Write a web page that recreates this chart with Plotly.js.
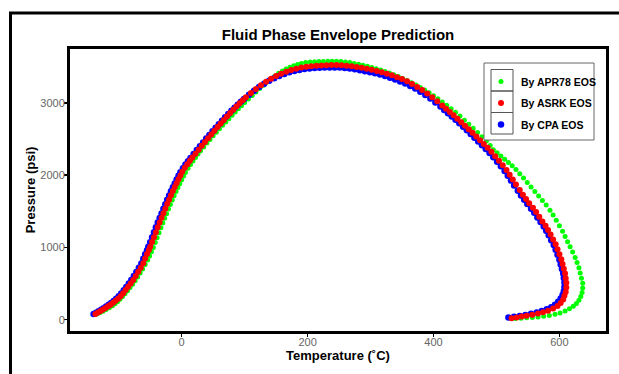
<!DOCTYPE html>
<html>
<head>
<meta charset="utf-8">
<script src="https://cdn.plot.ly/plotly-3.0.1.min.js"></script>
<style>
  html, body { margin: 0; padding: 0; background: #fff; }
  #chart { width: 619px; height: 374px; }
</style>
</head>
<body>
<div id="chart"></div>
<script>
// Series names (legend order)
const seriesNames = ["By APR78 EOS", "By ASRK EOS", "By CPA EOS"];

// APR78 EOS: [Temperature (°C), Pressure (psi)]
const apr78Pts = [
  [-135,78],[-130,96],[-125,117],[-120,140],[-115,165],[-110,193],[-106,220],[-102,250],[-98,283],[-94,320],
  [-90,358],[-86,400],[-82,444],[-78,490],[-74,538],[-70,590],[-66,645],[-62,702],[-58,762],[-54,825],
  [-51,880],[-48,940],[-45,1000],[-42,1068],[-39,1135],[-36,1203],[-33,1272],[-30,1338],[-27,1404],[-24,1466],
  [-21,1530],[-18,1594],[-15,1655],[-12,1715],[-9,1774],[-6,1830],[-3,1882],[0,1936],[3,1988],[6,2036],
  [10,2094],[14,2146],[18,2196],[22,2245],[26,2292],[30,2336],[35,2390],[40,2443],[45,2494],[50,2544],[55,2593],
  [60,2641],[65,2688],[70,2735],[75,2781],[80,2827],[85,2872],[90,2916],[95,2960],[100,3003],[106,3053],
  [112,3102],[118,3150],[124,3197],[130,3243],[136,3288],[142,3332],[148,3372],[154,3408],[160,3440],[166,3468],
  [172,3493],[178,3514],[184,3531],[190,3545],[197,3556],[204,3564],[211,3568],[218,3570],[225,3572],[232,3573],
  [239,3574],[246,3574],[253,3571],[260,3565],[267,3556],[274,3545],[281,3532],[288,3519],[295,3504],[302,3488],
  [309,3471],[316,3453],[323,3433],[330,3411],[337,3388],[344,3363],[351,3336],[358,3308],[365,3278],[372,3246],
  [379,3212],[386,3176],[393,3138],[400,3098],[407,3056],[414,3012],[421,2966],[428,2918],[435,2869],[442,2819],
  [449,2760],[456,2704],[463,2647],[470,2589],[477,2530],[484,2470],[490,2410],[495,2352],[501,2308],[507,2263],
  [513,2218],[519,2173],[525,2128],[531,2078],[537,2020],[543,1960],[549,1898],[555,1834],[561,1772],[567,1710],
  [573,1648],[579,1585],[585,1515],[590,1447],[595,1375],[600,1300],[605,1222],[609,1152],[613,1080],[617,1010],
  [621,938],[625,862],[628,790],[631,718],[633,646],[635,575],[637,505],[637,440],[636,378],[634,322],
  [631,270],[627,225],[622,185],[616,150],[609,120],[601,94],[593,75],[584,60],[575,48],[566,39],
  [557,32],[548,26],[539,21],[530,17]
];

// ASRK EOS
const asrkPts = [
  [-137,80],[-133,100],[-129,120],[-125,141],[-121,163],[-117,185],[-113,208],[-109,233],[-105,261],[-101,291],
  [-97,325],[-93,365],[-89,410],[-85,456],[-81,502],[-77,549],[-73,605],[-69,662],[-65,720],[-61,780],
  [-58,845],[-55,910],[-52,965],[-50,1010],[-47,1075],[-44,1140],[-41,1210],[-38,1280],[-35,1345],[-32,1410],
  [-29,1471],[-26,1535],[-23,1600],[-20,1660],[-17,1720],[-14,1780],[-11,1835],[-8,1887],[-5,1943],[-2,1996],
  [1,2046],[5,2100],[9,2150],[13,2197],[17,2243],[22,2296],[27,2351],[32,2405],[37,2458],[42,2511],[47,2563],
  [52,2614],[57,2664],[62,2714],[67,2763],[72,2811],[77,2858],[82,2904],[87,2949],[92,2993],[97,3036],
  [102,3075],[110,3135],[118,3192],[126,3244],[134,3291],[142,3333],[150,3370],[158,3402],[166,3430],[174,3453],
  [182,3472],[190,3487],[198,3499],[206,3507],[214,3512],[222,3516],[230,3519],[238,3521],[246,3521],[254,3518],
  [262,3512],[270,3504],[278,3494],[286,3483],[294,3470],[302,3456],[310,3440],[318,3422],[326,3402],[334,3380],
  [342,3355],[350,3328],[358,3298],[366,3260],[374,3220],[382,3176],[390,3128],[398,3076],[406,3020],[414,2962],
  [420,2918],[426,2873],[432,2827],[438,2780],[444,2732],[450,2684],[456,2635],[462,2585],[468,2534],[474,2482],
  [480,2430],[486,2377],[492,2323],[498,2262],[504,2200],[510,2137],[516,2070],[521,2005],[526,1938],[531,1870],
  [537,1794],[542,1730],[547,1670],[552,1612],[558,1548],[563,1490],[568,1425],[573,1360],[578,1300],[582,1240],
  [586,1178],[590,1110],[594,1043],[597,975],[600,905],[603,838],[605,770],[607,705],[609,640],[610,575],
  [611,510],[611,445],[610,385],[608,330],[606,280],[602,232],[597,190],[590,155],[582,125],[574,103],
  [566,85],[557,68],[548,55],[540,43],[532,31],[524,20]
];

// CPA EOS
const cpaPts = [
  [-140,78],[-136,96],[-132,116],[-128,137],[-124,159],[-120,182],[-116,206],[-112,232],[-108,260],[-104,291],
  [-100,325],[-96,364],[-92,408],[-88,454],[-84,500],[-80,548],[-76,603],[-72,660],[-68,718],[-64,778],
  [-61,842],[-58,906],[-55,962],[-53,1008],[-50,1073],[-47,1140],[-44,1208],[-41,1278],[-38,1344],[-35,1408],
  [-32,1470],[-29,1533],[-26,1598],[-23,1658],[-20,1718],[-17,1778],[-14,1833],[-11,1885],[-8,1940],[-5,1992],
  [-2,2041],[2,2096],[6,2146],[10,2193],[14,2238],[19,2291],[24,2346],[29,2400],[34,2452],[39,2505],[44,2556],
  [49,2606],[54,2655],[59,2704],[64,2752],[69,2799],[74,2845],[79,2889],[84,2932],[89,2974],[94,3014],
  [99,3052],[107,3110],[115,3166],[123,3217],[131,3263],[139,3304],[147,3340],[155,3371],[163,3398],[171,3421],
  [179,3440],[187,3455],[195,3467],[203,3475],[211,3480],[219,3484],[227,3487],[235,3489],[243,3489],[251,3487],
  [259,3482],[267,3474],[275,3463],[283,3451],[291,3438],[299,3424],[307,3408],[315,3390],[323,3370],[331,3348],
  [339,3323],[347,3296],[355,3266],[363,3234],[371,3196],[379,3154],[387,3108],[395,3058],[403,3004],[411,2948],
  [417,2902],[423,2857],[429,2811],[435,2764],[441,2716],[447,2668],[453,2619],[459,2569],[465,2518],[471,2466],
  [477,2414],[483,2361],[489,2307],[495,2248],[501,2186],[507,2123],[513,2056],[518,1992],[523,1925],[528,1857],
  [534,1782],[539,1718],[544,1658],[549,1600],[555,1536],[560,1478],[565,1414],[570,1350],[575,1290],[579,1230],
  [583,1168],[587,1100],[591,1033],[594,966],[597,897],[600,830],[602,764],[604,700],[606,638],[607,578],
  [608,515],[608,452],[607,395],[605,342],[602,292],[598,247],[593,207],[587,172],[580,144],[572,120],
  [564,100],[555,82],[546,66],[537,52],[528,40],[519,29]
];

const xTicks = [0, 200, 400, 600];
const yTicks = [0, 1000, 2000, 3000];

const FONT = '"Liberation Sans", Arial, sans-serif';

function mk(pts, name, color, size, rank) {
  return {
    type: 'scatter', mode: 'markers', name: '<b>' + name + '</b>',
    x: pts.map(p => p[0]), y: pts.map(p => p[1]),
    marker: { color: color, size: size, line: { width: 0 } },
    legendrank: rank, legendgroup: name, hoverinfo: 'skip'
  };
}

const data = [
  mk(apr78Pts, seriesNames[0], '#00ff00', 5, 1),
  mk(cpaPts, seriesNames[2], '#0000ff', 6.5, 3),
  mk(asrkPts, seriesNames[1], '#ff0000', 6, 2)
];

// plot area: left 70, right 606, top 49, bottom 331 (in 619x374)
const W = 619, H = 374, L = 70, R = 13, T = 49, B = 43;
const pw = W - L - R, ph = H - T - B;
const px = v => (v - L) / pw;
const py = v => 1 - (v - T) / ph;

function prect(x0, y0, x1, y1, color, width, fill, layer) {
  return { type: 'rect', xref: 'paper', yref: 'paper', x0: px(x0), x1: px(x1), y0: py(y1), y1: py(y0),
           line: { color: color, width: width }, fillcolor: fill, layer: layer };
}

const shapes = [
  prect(10.5, 13, 640, 400, '#000', 3, 'rgba(0,0,0,0)', 'below'),      // outer frame
  prect(484, 63, 594, 140, '#666', 1, '#fff', 'above'),                // legend frame
  prect(491, 69.5, 513, 91, '#555', 1, 'rgba(0,0,0,0)', 'above'),      // legend key boxes
  prect(491, 91, 513, 112.5, '#555', 1, 'rgba(0,0,0,0)', 'above'),
  prect(491, 112.5, 513, 134, '#555', 1, 'rgba(0,0,0,0)', 'above')
];

const layout = {
  width: W, height: H,
  margin: { l: L, r: R, t: T, b: B, pad: 0 },
  paper_bgcolor: '#fff', plot_bgcolor: '#fff',
  font: { family: FONT, color: '#000' },
  title: { text: '<b>Fluid Phase Envelope Prediction</b>', font: { size: 15, family: FONT, color: '#000' },
           x: 0.5, xref: 'paper', xanchor: 'center', y: 1 - 35 / H, yanchor: 'middle' },
  xaxis: {
    range: [-177.4, 674], tickvals: xTicks, ticktext: xTicks.map(String),
    showgrid: false, zeroline: false, showline: true, linecolor: '#000', linewidth: 3, mirror: true,
    ticks: 'outside', ticklen: 3, tickwidth: 1.5, tickcolor: '#000', ticklabelstandoff: -4,
    tickfont: { size: 11, color: '#666', family: FONT },
    title: { text: '<b>Temperature (˚C)</b>', font: { size: 13, color: '#000', family: FONT }, standoff: 2 }
  },
  yaxis: {
    range: [-156, 3744], tickvals: yTicks, ticktext: yTicks.map(String),
    showgrid: false, zeroline: false, showline: true, linecolor: '#000', linewidth: 3, mirror: true,
    ticks: 'outside', ticklen: 3, tickwidth: 1.5, tickcolor: '#000', ticklabelstandoff: -3,
    tickfont: { size: 11, color: '#666', family: FONT },
    title: { text: '<b>Pressure (psi)</b>', font: { size: 13, color: '#000', family: FONT }, standoff: 2 }
  },
  showlegend: true,
  legend: {
    x: px(481), y: py(67), xanchor: 'left', yanchor: 'top',
    bgcolor: 'rgba(0,0,0,0)', borderwidth: 0,
    font: { size: 10.5, family: FONT, color: '#000' },
    traceorder: 'grouped', tracegroupgap: 2.5
  },
  shapes: shapes
};

Plotly.newPlot('chart', data, layout, { staticPlot: true, displayModeBar: false });
</script>
</body>
</html>
